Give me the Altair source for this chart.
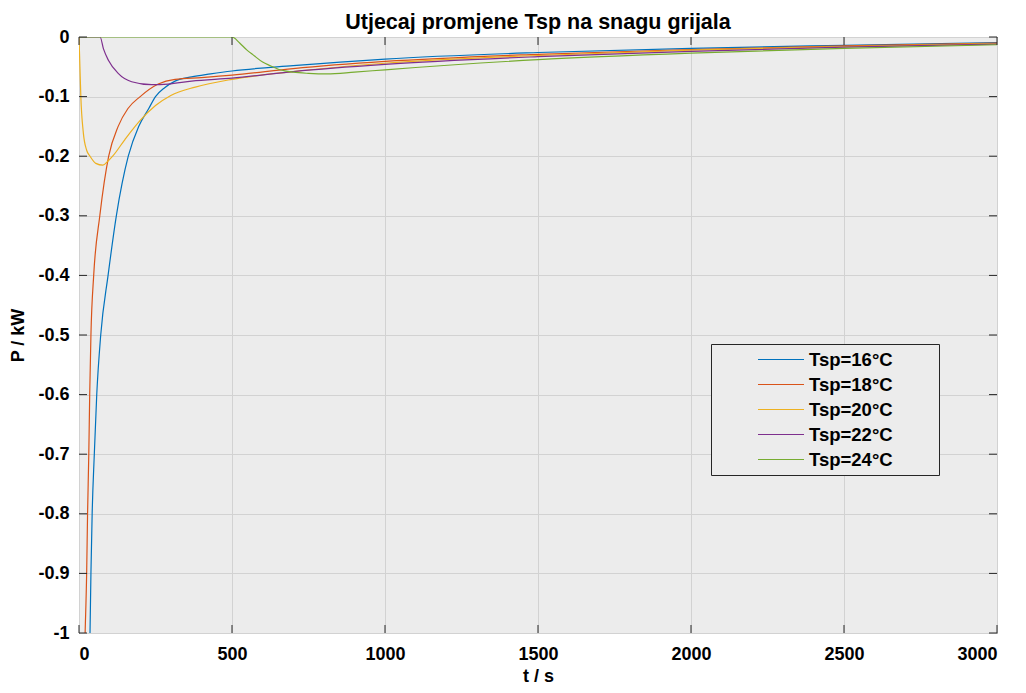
import altair as alt
import pandas as pd

# ---- data ----
series_names = ["Tsp=16°C", "Tsp=18°C", "Tsp=20°C", "Tsp=22°C", "Tsp=24°C"]
series_colors = ["#0072BD", "#D95319", "#EDB120", "#7E2F8E", "#77AC30"]

t16 = [30, 36, 39, 43, 50, 58, 71, 95, 122, 161, 195, 228, 250, 280, 314, 368, 430, 500, 700, 1000, 1500, 2000, 2500, 3000]
p16 = [-1.15, -1.0, -0.9, -0.8, -0.7, -0.6, -0.5, -0.4, -0.3, -0.2, -0.15, -0.12, -0.1, -0.085, -0.074, -0.067, -0.062, -0.057, -0.048, -0.037, -0.026, -0.019, -0.014, -0.0095]

t18 = [15, 20, 25, 28, 32, 35, 39, 48, 68, 97, 128, 160, 200, 259, 314, 400, 500, 700, 1000, 1500, 2000, 2500, 3000]
p18 = [-1.1, -1.0, -0.9, -0.8, -0.7, -0.6, -0.5, -0.4, -0.3, -0.2, -0.15, -0.12, -0.1, -0.079, -0.071, -0.068, -0.064, -0.053, -0.041, -0.029, -0.021, -0.015, -0.010]

t20 = [0, 3, 6, 14, 25, 36, 55, 78, 95, 110, 150, 200, 250, 300, 380, 500, 700, 1000, 1500, 2000, 2500, 3000]
p20 = [0, -0.05, -0.1, -0.16, -0.19, -0.2, -0.212, -0.215, -0.208, -0.2, -0.172, -0.14, -0.115, -0.098, -0.084, -0.071, -0.058, -0.044, -0.031, -0.022, -0.016, -0.011]

t22 = [0, 69, 80, 96, 128, 172, 237, 291, 368, 500, 700, 1000, 1500, 2000, 2500, 3000]
p22 = [0, 0, -0.02, -0.039, -0.061, -0.075, -0.080, -0.079, -0.074, -0.069, -0.058, -0.046, -0.033, -0.024, -0.017, -0.012]

t24 = [0, 500, 525, 549, 569, 600, 624, 657, 700, 750, 810, 900, 1000, 1500, 2000, 2500, 3000]
p24 = [0, 0, -0.01, -0.022, -0.03, -0.042, -0.048, -0.055, -0.059, -0.061, -0.062, -0.059, -0.055, -0.038, -0.027, -0.019, -0.013]

x_ticks = [0, 500, 1000, 1500, 2000, 2500, 3000]
y_ticks = [-1.0, -0.9, -0.8, -0.7, -0.6, -0.5, -0.4, -0.3, -0.2, -0.1, 0.0]

# ---- build table ----
rows = []
for name, ts, ps in zip(series_names, [t16, t18, t20, t22, t24], [p16, p18, p20, p22, p24]):
    for i, (t, p) in enumerate(zip(ts, ps)):
        rows.append({"t": t, "P": p, "series": name, "order": i})
df = pd.DataFrame(rows)
xt_df = pd.DataFrame({"x": x_ticks})
yt_df = pd.DataFrame({"y": y_ticks})

W, H = 918, 596
FONT = "Liberation Sans"
FRAME = "#262626"
TICK_LEN = 8

xscale = alt.Scale(domain=[0, 3000], nice=False, zero=False)
yscale = alt.Scale(domain=[-1, 0], nice=False, zero=False)

y_label_expr = "datum.value == 0 ? '0' : '-' + format(abs(datum.value), '.1~f')"

pad_right = "\u00a0" * 8 + "\u200b"

lines = alt.Chart(df).mark_line(strokeWidth=1.2, clip=True, interpolate="monotone").encode(
    x=alt.X("t:Q", scale=xscale, title="t / s",
            axis=alt.Axis(values=x_ticks, format="d", grid=True, ticks=False, domain=False,
                          labelPadding=12, titlePadding=4)),
    y=alt.Y("P:Q", scale=yscale, title="P / kW",
            axis=alt.Axis(values=y_ticks, labelExpr=y_label_expr, grid=True, ticks=False,
                          domain=False, labelPadding=10, titlePadding=10)),
    color=alt.Color("series:N",
                    scale=alt.Scale(domain=series_names, range=series_colors),
                    legend=alt.Legend(
                        title=None, orient="none", legendX=632, legendY=307,
                        symbolType="stroke", symbolSize=2116, symbolStrokeWidth=1.2,
                        clipHeight=21, rowPadding=4, padding=5,
                        symbolOffset=41, labelOffset=4,
                        labelExpr="datum.label + '" + pad_right + "'",
                        labelFont=FONT, labelFontSize=18.5, labelFontWeight="bold",
                        labelColor="#000000", labelLimit=400,
                        fillColor="#ECECEC", strokeColor=FRAME,
                        cornerRadius=0)),
    order="order:Q",
)

tick_bottom = alt.Chart(xt_df).mark_rule(color=FRAME, strokeWidth=1).encode(
    x=alt.X("x:Q", scale=xscale), y=alt.value(H), y2=alt.value(H - TICK_LEN))
tick_top = alt.Chart(xt_df).mark_rule(color=FRAME, strokeWidth=1).encode(
    x=alt.X("x:Q", scale=xscale), y=alt.value(0), y2=alt.value(TICK_LEN))
tick_left = alt.Chart(yt_df).mark_rule(color=FRAME, strokeWidth=1).encode(
    y=alt.Y("y:Q", scale=yscale), x=alt.value(0), x2=alt.value(TICK_LEN))
tick_right = alt.Chart(yt_df).mark_rule(color=FRAME, strokeWidth=1).encode(
    y=alt.Y("y:Q", scale=yscale), x=alt.value(W), x2=alt.value(W - TICK_LEN))

chart = alt.layer(lines, tick_bottom, tick_top, tick_left, tick_right).properties(
    width=W, height=H,
    title=alt.TitleParams("Utjecaj promjene Tsp na snagu grijala", anchor="middle",
                          font=FONT, fontSize=21.5, fontWeight="bold", color="#000000", offset=-5),
    autosize=alt.AutoSizeParams(type="none"),
    padding={"left": 71, "top": 29, "right": 21, "bottom": 52},
    background="#FFFFFF",
).configure_view(
    fill="#ECECEC", stroke=FRAME, strokeWidth=1
).configure_axis(
    labelFont=FONT, labelFontSize=18, labelFontWeight="bold", labelColor="#000000",
    titleFont=FONT, titleFontSize=18, titleFontWeight="bold", titleColor="#000000",
    gridColor="#D2D2D2", gridWidth=1
).configure_legend(
    strokeWidth=1
)

chart.save("out.html", embed_options={"renderer": "svg", "actions": False})
